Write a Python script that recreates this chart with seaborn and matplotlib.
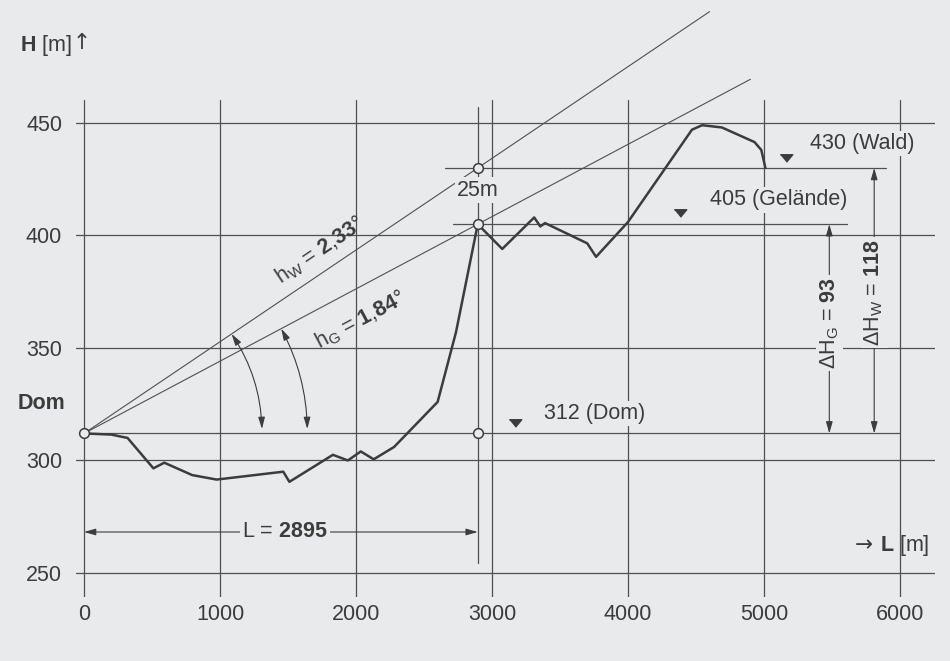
import numpy as np
import matplotlib
matplotlib.use("Agg")
import matplotlib.pyplot as plt
from matplotlib.patches import FancyArrowPatch
import seaborn as sns

sns.set_style("white")
plt.rcParams['font.family'] = ['Liberation Sans', 'DejaVu Sans']
plt.rcParams['mathtext.fontset'] = 'custom'
plt.rcParams['mathtext.rm'] = 'Liberation Sans'
plt.rcParams['mathtext.bf'] = 'Liberation Sans:bold'
plt.rcParams['mathtext.it'] = 'Liberation Sans:italic'

# Geländeprofil (Entfernung vom Dom in m, Höhe in m)
dist = [0, 200, 320, 510, 590, 795, 975, 1465, 1510, 1830, 1940, 2035, 2130, 2280,
        2600, 2735, 2895, 3075, 3310, 3355, 3390, 3700, 3765, 4000, 4470, 4545,
        4690, 4930, 4980, 5010]
height = [312, 311.5, 310, 296.5, 299, 293.5, 291.5, 295, 290.5, 302.5, 300, 304,
          300.5, 306, 326, 357, 405, 394, 408, 404, 405.5, 396.5, 390.5, 406, 447,
          449, 448, 441.5, 438, 430]

x_ticks = [0, 1000, 2000, 3000, 4000, 5000, 6000]
y_ticks = [250, 300, 350, 400, 450]

L = 2895
h_dom = 312
h_gel = 405
h_wald = 430

bg = '#e8eaeb'
dark = '#3c3c3c'
grid_c = '#505050'
fs = 15.5

fig = plt.figure(figsize=(9.5, 6.61), dpi=100, facecolor=bg)
ax = fig.add_axes([0.08, 0.0968, 0.9042, 0.7519])
ax.set_facecolor(bg)
ax.set_xlim(-59, 6257)
ax.set_ylim(239.3, 460.2)
ax.set_xticks(x_ticks)
ax.set_yticks(y_ticks)
ax.grid(True, color=grid_c, lw=0.9)
ax.set_axisbelow(True)
ax.tick_params(length=0, labelsize=fs, labelcolor=dark)
ax.tick_params(axis='x', pad=5)
ax.tick_params(axis='y', pad=10)
sns.despine(ax=ax, left=True, bottom=True)

# Profil
sns.lineplot(x=dist, y=height, ax=ax, color=dark, lw=1.8, sort=False,
             estimator=None, zorder=4)

# Sichtlinien Dom -> Gelände / Wald
box = dict(facecolor=bg, edgecolor='none', pad=1.5)
lines = [(h_wald - h_dom, 4600, 'W', 1735, 393.6),
         (h_gel - h_dom, 4900, 'G', 2030, 362.4)]
for dh, x_end, sub, tx, ty in lines:
    slope = dh / L
    xs = np.array([0, x_end])
    ax.plot(xs, h_dom + slope * xs, color=grid_c, lw=0.8, clip_on=False, zorder=3)
    p0 = ax.transData.transform((0, h_dom))
    p1 = ax.transData.transform((1000, h_dom + slope * 1000))
    ang = np.degrees(np.arctan2(p1[1] - p0[1], p1[0] - p0[0]))
    deg = f"{np.degrees(np.arctan(slope)):.2f}".split('.')
    label = (r"h$_\mathregular{" + sub + "}$ = $\\mathbf{" + deg[0] + "}$,$\\mathbf{"
             + deg[1] + "}$°")
    ax.text(tx, ty, label, rotation=ang, rotation_mode='anchor', ha='center',
            va='center', fontsize=fs, color=dark, zorder=5)

# Winkelbögen
arc_x = [1085, 1450]
for (dh, *_), xa in zip(lines, arc_x):
    slope = dh / L
    p0 = ax.transData.transform((0, h_dom))
    pa = ax.transData.transform((xa, h_dom + slope * xa))
    r = np.hypot(*(pa - p0))
    pb = p0 + np.array([np.sqrt(r ** 2 - 4.5 ** 2), 4.5])
    theta = np.arctan2(pa[1] - p0[1], pa[0] - p0[0]) - np.arctan2(4.5, r)
    xb = ax.transData.inverted().transform(pb)
    arc = FancyArrowPatch((xa, h_dom + slope * xa), tuple(xb),
                          connectionstyle=f"arc3,rad={-np.tan(theta / 4):.3f}",
                          arrowstyle="<|-|>,head_length=0.7,head_width=0.2",
                          mutation_scale=10, color=dark, lw=0.8,
                          shrinkA=0, shrinkB=0, zorder=5)
    ax.add_patch(arc)

# Bezugslinien
ax.plot([0, 6000], [h_dom, h_dom], color=grid_c, lw=0.9, zorder=2)
ax.plot([2655, 5900], [h_wald, h_wald], color=grid_c, lw=0.9, zorder=2)
ax.plot([2710, 5610], [h_gel, h_gel], color=grid_c, lw=0.9, zorder=2)
ax.plot([L, L], [254.4, 457], color=grid_c, lw=0.9, zorder=2)

# Punkte
ax.plot([0, L, L, L], [h_dom, h_wald, h_gel, h_dom], 'o', ms=7, mfc=bg, mec=dark,
        mew=1.1, clip_on=False, zorder=6)
ax.text(L, 420.2, "25m", ha='center', va='center', fontsize=fs, color=dark,
        bbox=box, zorder=5)

# Höhenmarken
tri = [(-1, 0.6), (1, 0.6), (0, -0.6)]
ax.plot([5160, 4380, 3170], [434.5, 410, 316.5], ls='none', marker=tri, ms=9,
        color=dark, zorder=5)
ax.text(5340, 441, "430 (Wald)", ha='left', va='center', fontsize=fs, color=dark,
        bbox=box, zorder=5)
ax.text(4600, 415.8, "405 (Gelände)", ha='left', va='center', fontsize=fs,
        color=dark, bbox=box, zorder=5)
ax.text(3385, 321, "312 (Dom)", ha='left', va='center', fontsize=fs, color=dark,
        bbox=box, zorder=5)

# Bemaßungen
arrow = dict(arrowstyle="<|-|>,head_length=0.7,head_width=0.2", mutation_scale=10,
             color=dark, lw=0.8, shrinkA=0, shrinkB=0)
ax.annotate('', xy=(0, 268.2), xytext=(L, 268.2), arrowprops=arrow, zorder=4)
ax.text(1480, 268.2, r"L = $\mathbf{2895}$", ha='center', va='center', fontsize=fs,
        color=dark, bbox=box, zorder=5)

ax.annotate('', xy=(5480, h_gel), xytext=(5480, h_dom), arrowprops=arrow, zorder=4)
ax.text(5480, 361, r"Δ$\mathregular{H}_\mathregular{G}$ = $\mathbf{93}$", rotation=90,
        ha='center', va='center', fontsize=fs, color=dark, bbox=box, zorder=5)
ax.annotate('', xy=(5810, h_wald), xytext=(5810, h_dom), arrowprops=arrow, zorder=4)
ax.text(5810, 374.5, r"Δ$\mathregular{H}_\mathregular{W}$ = $\mathbf{118}$",
        rotation=90, ha='center', va='center', fontsize=fs, color=dark, bbox=box,
        zorder=5)

# Achsenbeschriftungen
ax.text(-140, 325.5, "Dom", ha='right', va='center', fontsize=fs, color=dark,
        fontweight='bold', clip_on=False)
fig.text(20 / 950, 1 - 45 / 661, r"$\mathbf{H}$ [m]", ha='left', va='center',
         fontsize=fs, color=dark)
fig.text(73 / 950, 1 - 43 / 661, "↑", ha='left', va='center', fontsize=fs,
         color=dark, family='DejaVu Sans')
ax.text(6220, 262.4, r"$\mathbf{L}$ [m]", ha='right', va='center', fontsize=fs,
        color=dark, zorder=5)
ax.text(5800, 262.4, "→", ha='right', va='center', fontsize=fs, color=dark,
        family='DejaVu Sans', zorder=5)

fig.savefig("out.png", dpi=100, facecolor=bg)
